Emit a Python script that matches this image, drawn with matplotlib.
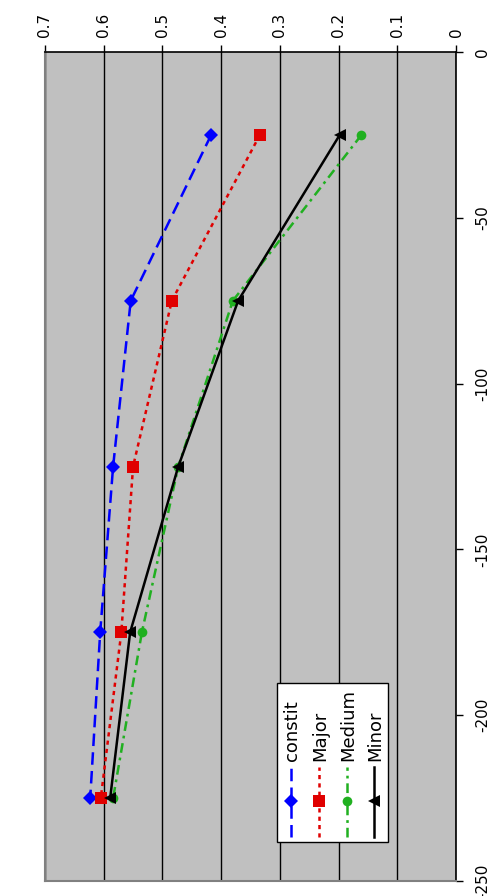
import matplotlib
matplotlib.use("Agg")
import matplotlib.pyplot as plt
from matplotlib.lines import Line2D
from matplotlib.patches import Rectangle

plt.rcParams['font.family'] = ['DejaVu Sans']
plt.rcParams['lines.scale_dashes'] = False
plt.rcParams['axes.unicode_minus'] = False

depth = [-25, -75, -125, -175, -225]
constit = [0.417, 0.554, 0.584, 0.606, 0.623]
major = [0.334, 0.484, 0.550, 0.570, 0.605]
medium = [0.161, 0.380, 0.473, 0.535, 0.584]
minor = [0.198, 0.371, 0.473, 0.555, 0.589]
series_names = ["constit", "Major", "Medium", "Minor"]
value_ticks = [0.7, 0.6, 0.5, 0.4, 0.3, 0.2, 0.1, 0]
depth_ticks = [0, -50, -100, -150, -200, -250]

W, H = 498, 896
fig = plt.figure(figsize=(W / 100, H / 100), dpi=100)
fig.patch.set_facecolor('white')

L, R, T, B = 45, 456, 52, 881
ax = fig.add_axes([L / W, 1 - B / H, (R - L) / W, (B - T) / H])
ax.set_facecolor('#C0C0C0')

LW = 1.8
styles = [
    dict(color='#0000FF', marker='D', markersize=7, dashes=(9, 4.5)),
    dict(color='#E00000', marker='s', markersize=8, dashes=(3, 3)),
    dict(color='#20B020', marker='o', markersize=7, dashes=(7, 3.5, 2, 3.5)),
    dict(color='#000000', marker='<', markersize=9, linestyle='-'),
]
data = [constit, major, medium, minor]
for vals, st in zip(data, styles):
    st = dict(st)
    dashes = st.pop('dashes', None)
    ln, = ax.plot(vals, depth, linewidth=LW, markeredgewidth=0, zorder=3, **st)
    if dashes is not None:
        ln.set_dashes(dashes)

ax.set_xlim(0.7, 0)
ax.set_ylim(-250, 0)
ax.set_xticks(value_ticks)
ax.set_xticklabels([f"{v:g}" for v in value_ticks], rotation=90)
ax.set_yticks(depth_ticks)
ax.set_yticklabels([str(v) for v in depth_ticks], rotation=90, va='center')
ax.xaxis.set_ticks_position('top')
ax.xaxis.set_label_position('top')
ax.yaxis.set_ticks_position('right')
ax.tick_params(axis='x', direction='out', length=5, width=1, pad=6, labelsize=11, colors='black')
ax.tick_params(axis='y', direction='out', length=5, width=1, pad=9, labelsize=11, colors='black')
ax.grid(axis='x', color='black', linewidth=1, zorder=1)
ax.set_axisbelow(True)
for s in ['top', 'right']:
    ax.spines[s].set_color('black')
    ax.spines[s].set_linewidth(1.2)
for s in ['left', 'bottom']:
    ax.spines[s].set_color('#808080')
    ax.spines[s].set_linewidth(1.5)

# manual rotated legend
def fx(px):
    return px / W

def fy(py):
    return 1 - py / H

lx0, lx1, ly0, ly1 = 277, 388, 683, 842
fig.patches.append(Rectangle((fx(lx0), fy(ly1)), fx(lx1) - fx(lx0), fy(ly0) - fy(ly1),
                             transform=fig.transFigure, facecolor='white',
                             edgecolor='black', linewidth=1, zorder=5))
cols = [291, 319, 347, 374]
for name, st, cx in zip(series_names, styles, cols):
    st = dict(st)
    dashes = st.pop('dashes', None)
    marker = st.pop('marker')
    ms = st.pop('markersize')
    color = st['color']
    ln = Line2D([fx(cx), fx(cx)], [fy(837), fy(767)], transform=fig.transFigure,
                color=color, linewidth=LW, zorder=6, linestyle=st.get('linestyle', '-'))
    if dashes is not None:
        ln.set_dashes(dashes)
    fig.lines.append(ln)
    mk = Line2D([fx(cx)], [fy(801)], transform=fig.transFigure, color=color,
                marker=marker, markersize=ms, markeredgewidth=0, linestyle='none', zorder=7)
    fig.lines.append(mk)
    fig.text(fx(cx + 1), fy(761), name, rotation=90, ha='center', va='bottom',
             fontsize=13, zorder=8)

fig.savefig('out.png', dpi=100)
